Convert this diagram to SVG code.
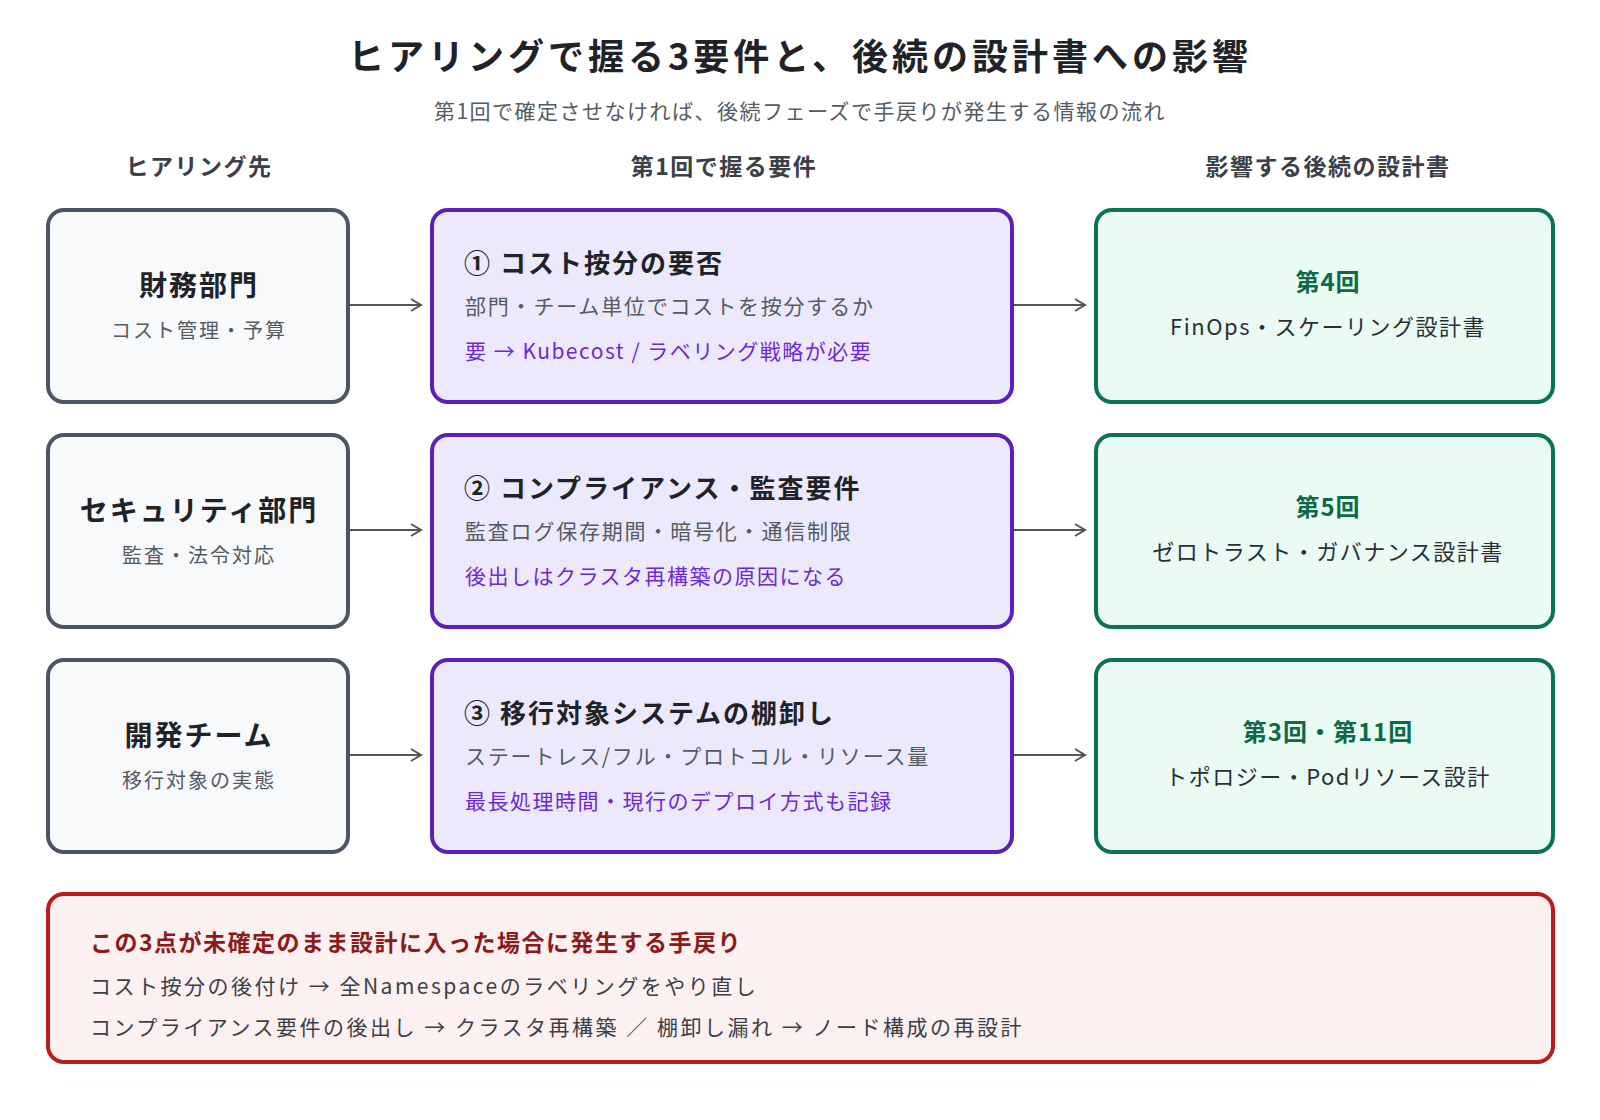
<svg xmlns="http://www.w3.org/2000/svg" width="1600" height="1120" viewBox="0 0 1600 1120">
<style>
text{font-family:"Noto Sans CJK JP","Noto Sans",sans-serif}
.t{font-size:36px;font-weight:700;fill:#1f2328;text-anchor:middle;letter-spacing:4px}
.st{font-size:21px;fill:#555b63;text-anchor:middle;letter-spacing:1.5px}
.h{font-size:23px;font-weight:700;fill:#3b4048;text-anchor:middle;letter-spacing:1.5px}
.lb{fill:#f8f9fb;stroke:#4b5563;stroke-width:4}
.mb{fill:#ede9fd;stroke:#5b21b6;stroke-width:4}
.rb{fill:#e9fbf2;stroke:#0b7350;stroke-width:4}
.ln{font-size:28px;font-weight:700;fill:#1f2328;text-anchor:middle;letter-spacing:2px}
.ls{font-size:20px;fill:#555b63;text-anchor:middle;letter-spacing:2px}
.mt{font-size:26px;font-weight:700;fill:#1f2328;letter-spacing:2px}
.m2{font-size:21px;fill:#555b63;letter-spacing:1.8px}
.m3{font-size:21px;fill:#6d28d9;letter-spacing:1.5px}
.rt{font-size:24px;font-weight:700;fill:#0b6b48;text-anchor:middle;letter-spacing:1px}
.rs{font-size:22px;fill:#2a2f36;text-anchor:middle;letter-spacing:1.5px}
.c{stroke:#555;stroke-width:2;fill:none;marker-end:url(#a)}
.w{font-size:21px;fill:#3b4048;letter-spacing:2.5px}
</style>
<defs><marker id="a" markerWidth="14" markerHeight="14" refX="12" refY="7" orient="auto" markerUnits="userSpaceOnUse"><path d="M2,1 L12,7 L2,13" fill="none" stroke="#555" stroke-width="2"/></marker></defs>
<rect width="1600" height="1120" fill="#fff"/>
<text class="t" x="800" y="70">ヒアリングで握る3要件と、後続の設計書への影響</text>
<text class="st" x="800" y="119">第1回で確定させなければ、後続フェーズで手戻りが発生する情報の流れ</text>
<text class="h" x="199" y="175">ヒアリング先</text>
<text class="h" x="724" y="175">第1回で握る要件</text>
<text class="h" x="1328" y="175">影響する後続の設計書</text>
<g id="connectors">
<path class="c" d="M350,305 H421"/><path class="c" d="M1014,305 H1085"/>
<path class="c" d="M350,530 H421"/><path class="c" d="M1014,530 H1085"/>
<path class="c" d="M350,755 H421"/><path class="c" d="M1014,755 H1085"/>
</g>
<g id="finance"><rect class="lb" x="48" y="210" width="300" height="192" rx="16"/><text class="ln" x="199" y="296">財務部門</text><text class="ls" x="199" y="338">コスト管理・予算</text></g>
<g id="security"><rect class="lb" x="48" y="435" width="300" height="192" rx="16"/><text class="ln" x="199" y="521">セキュリティ部門</text><text class="ls" x="199" y="563">監査・法令対応</text></g>
<g id="dev"><rect class="lb" x="48" y="660" width="300" height="192" rx="16"/><text class="ln" x="199" y="746">開発チーム</text><text class="ls" x="199" y="788">移行対象の実態</text></g>
<g id="req1"><rect class="mb" x="432" y="210" width="580" height="192" rx="16"/><text class="mt" x="464" y="273">① コスト按分の要否</text><text class="m2" x="465" y="314">部門・チーム単位でコストを按分するか</text><text class="m3" x="465" y="359">要 → Kubecost / ラベリング戦略が必要</text></g>
<g id="req2"><rect class="mb" x="432" y="435" width="580" height="192" rx="16"/><text class="mt" x="464" y="498">② コンプライアンス・監査要件</text><text class="m2" x="465" y="539">監査ログ保存期間・暗号化・通信制限</text><text class="m3" x="465" y="584">後出しはクラスタ再構築の原因になる</text></g>
<g id="req3"><rect class="mb" x="432" y="660" width="580" height="192" rx="16"/><text class="mt" x="464" y="723">③ 移行対象システムの棚卸し</text><text class="m2" x="465" y="764">ステートレス/フル・プロトコル・リソース量</text><text class="m3" x="465" y="809">最長処理時間・現行のデプロイ方式も記録</text></g>
<g id="doc1"><rect class="rb" x="1096" y="210" width="457" height="192" rx="16"/><text class="rt" x="1328" y="291">第4回</text><text class="rs" x="1328" y="335">FinOps・スケーリング設計書</text></g>
<g id="doc2"><rect class="rb" x="1096" y="435" width="457" height="192" rx="16"/><text class="rt" x="1328" y="516">第5回</text><text class="rs" x="1328" y="560">ゼロトラスト・ガバナンス設計書</text></g>
<g id="doc3"><rect class="rb" x="1096" y="660" width="457" height="192" rx="16"/><text class="rt" x="1328" y="741">第3回・第11回</text><text class="rs" x="1328" y="785">トポロジー・Podリソース設計</text></g>
<g id="warning"><rect x="48" y="894" width="1505" height="168" rx="16" fill="#fdf0f0" stroke="#b91c1c" stroke-width="4"/>
<text x="90" y="951" font-size="23" font-weight="700" fill="#8b1a1a" letter-spacing="1.5">この3点が未確定のまま設計に入った場合に発生する手戻り</text>
<text class="w" x="90" y="994">コスト按分の後付け → 全Namespaceのラベリングをやり直し</text>
<text class="w" x="90" y="1035">コンプライアンス要件の後出し → クラスタ再構築 ／ 棚卸し漏れ → ノード構成の再設計</text></g>
</svg>
